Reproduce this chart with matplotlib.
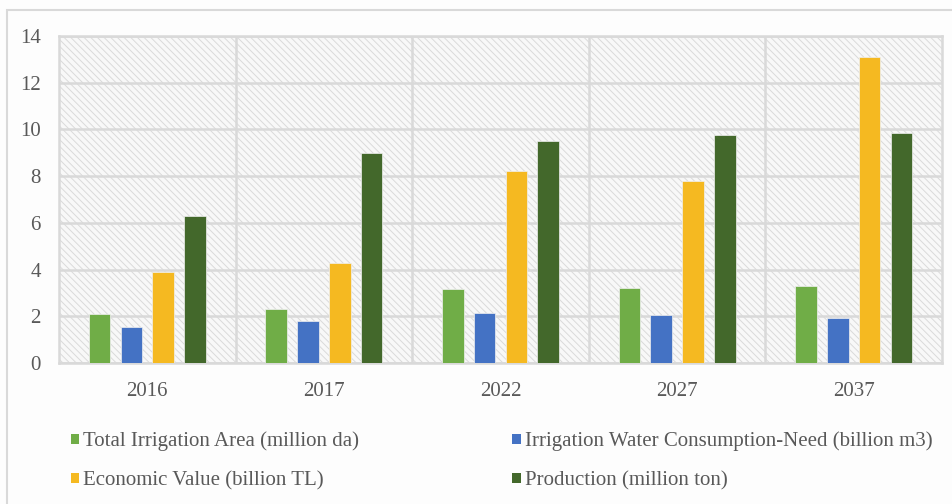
import matplotlib
matplotlib.use("Agg")
import matplotlib.pyplot as plt
import numpy as np
from matplotlib.patches import Rectangle
from matplotlib.ticker import FixedLocator

years = ["2016", "2017", "2022", "2027", "2037"]
series_names = [
    "Total Irrigation Area (million da)",
    "Irrigation Water Consumption-Need (billion m3)",
    "Economic Value (billion TL)",
    "Production (million ton)",
]
total_area = [2.1, 2.3, 3.15, 3.2, 3.3]
water_need = [1.55, 1.78, 2.15, 2.05, 1.92]
economic_value = [3.9, 4.3, 8.2, 7.8, 13.1]
production = [6.3, 9.0, 9.5, 9.75, 9.85]
colors = ["#70ad47", "#4472c4", "#f5b921", "#43682b"]
yticks = [0, 2, 4, 6, 8, 10, 12, 14]

plt.rcParams["font.family"] = ["Liberation Serif", "DejaVu Serif"]
plt.rcParams["hatch.linewidth"] = 0.7

fig = plt.figure(figsize=(9.52, 5.04), dpi=100)
fig.patch.set_facecolor("#fdfdfd")
fig.patches.append(Rectangle((7 / 952, -0.01), 1.0, (504 - 10) / 504 + 0.01,
                             transform=fig.transFigure, fill=False,
                             edgecolor="#d9d9d9", linewidth=1.5, zorder=0))

ax = fig.add_axes([59 / 952, (504 - 363) / 504, (942 - 59) / 952, (363 - 36) / 504])
ax.set_facecolor("#f8f8f8")
ax.add_patch(Rectangle((0, 0), 1, 1, transform=ax.transAxes, facecolor="#f8f8f8",
                       edgecolor="#dadada", hatch="\\" * 5, linewidth=0, zorder=0))

x = np.arange(len(years))
width = 0.122
step = 0.18
data = [total_area, water_need, economic_value, production]
for i, (vals, c, name) in enumerate(zip(data, colors, series_names)):
    ax.bar(x + (i - 1.5) * step, vals, width, color=c, label=name, zorder=3,
           edgecolor="#f0f0f0", linewidth=0.5)

ax.set_xlim(-0.5, len(years) - 0.5)
ax.set_ylim(0, 14)
ax.set_yticks(yticks)
ax.set_xticks(x)
ax.set_xticklabels(years)
ax.xaxis.set_minor_locator(FixedLocator(np.arange(0.5, len(years) - 0.5, 1)))
ax.grid(axis="y", which="major", color="#d9d9d9", linewidth=1.8, zorder=1)
ax.grid(axis="x", which="minor", color="#d9d9d9", linewidth=1.8, zorder=1)
ax.grid(axis="x", which="major", visible=False)
ax.tick_params(axis="both", which="both", length=0, labelsize=15, colors="#595959")
ax.tick_params(axis="x", pad=14)
ax.tick_params(axis="y", pad=13)
for sp in ax.spines.values():
    sp.set_color("#d9d9d9")
    sp.set_linewidth(1.8)
ax.set_axisbelow(True)

handles, labels = ax.get_legend_handles_labels()
order = [0, 2, 1, 3]
leg = fig.legend([handles[i] for i in order], [labels[i] for i in order],
                 ncol=2, loc="upper left",
                 bbox_to_anchor=(52 / 952, 1 - 413 / 504), frameon=False,
                 fontsize=15, handlelength=0.4, handleheight=0.4,
                 handletextpad=0.2, columnspacing=7.35, labelspacing=0.95,
                 labelcolor="#595959")
for h in leg.legend_handles:
    h.set_edgecolor("none")

fig.savefig("out.png", dpi=100, facecolor=fig.get_facecolor())
